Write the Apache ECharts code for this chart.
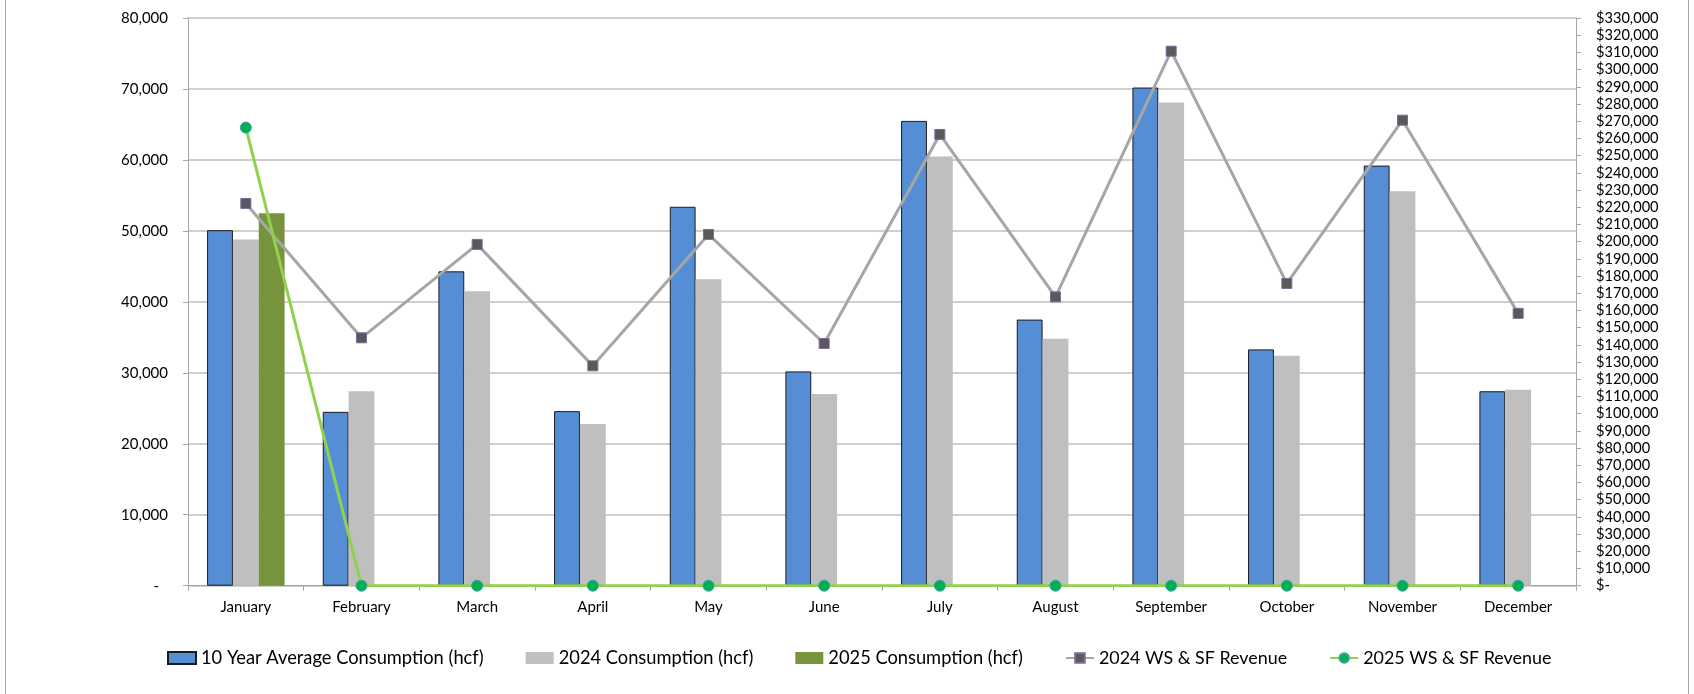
<!DOCTYPE html>
<html>
<head>
<meta charset="utf-8">
<script src="https://cdn.jsdelivr.net/npm/echarts@6/dist/echarts.min.js"></script>
<style>
html,body{margin:0;padding:0;background:#fff;}
#chart{width:1694px;height:694px;}
</style>
</head>
<body>
<div id="chart"></div>
<script>
var months = ['January','February','March','April','May','June','July','August','September','October','November','December'];
var avg10 = [50100, 24500, 44300, 24600, 53400, 30200, 65500, 37500, 70200, 33300, 59200, 27400];
var cons2024 = [48800, 27400, 41500, 22800, 43200, 27000, 60500, 34800, 68100, 32400, 55600, 27600];
var cons2025 = [52500, null, null, null, null, null, null, null, null, null, null, null];
var rev2024 = [222200, 144100, 198400, 127800, 204200, 140800, 262300, 167900, 310700, 175700, 270600, 158300];
var rev2025 = [266300, 0, 0, 0, 0, 0, 0, 0, 0, 0, 0, 0];
var seriesNames = ['10 Year Average Consumption (hcf)','2024 Consumption (hcf)','2025 Consumption (hcf)','2024 WS & SF Revenue','2025 WS & SF Revenue'];

var FONT = 'Lato';
function fmtNum(v){ return v.toString().replace(/\B(?=(\d{3})+(?!\d))/g, ','); }

var chart = echarts.init(document.getElementById('chart'), null, {renderer:'canvas'});
chart.setOption({
  animation:false,
  backgroundColor:'#ffffff',
  textStyle:{fontFamily:FONT},
  grid:{left:188, right:118, top:18, bottom:108.3, containLabel:false},
  legend:{
    left:162, top:644,
    itemGap:42, itemWidth:28, itemHeight:12,
    textStyle:{fontFamily:FONT, fontSize:18.3, color:'#000'},
    data:[
      {name:seriesNames[0], icon:'rect'},
      {name:seriesNames[1], icon:'rect'},
      {name:seriesNames[2], icon:'rect'},
      {name:seriesNames[3], textStyle:{fontSize:17.9}},
      {name:seriesNames[4], textStyle:{fontSize:17.9}}
    ]
  },
  xAxis:{
    type:'category', data:months,
    axisLine:{show:true, lineStyle:{color:'#A6A6A6', width:1}},
    axisTick:{show:true, length:5, alignWithLabel:false, lineStyle:{color:'#A6A6A6'}},
    axisLabel:{fontFamily:FONT, fontSize:15, color:'#000', margin:14}
  },
  yAxis:[{
    type:'value', min:0, max:80000, interval:10000,
    axisLine:{show:true, lineStyle:{color:'#A6A6A6'}},
    axisTick:{show:true, length:5, lineStyle:{color:'#A6A6A6'}},
    splitLine:{show:true, lineStyle:{color:'#BFBFBF', width:1.5}},
    axisLabel:{fontFamily:FONT, fontSize:15, color:'#000', margin:20,
      formatter:function(v){ return v===0 ? '{z|-}' : fmtNum(v); },
      rich:{z:{fontFamily:FONT, fontSize:15, color:'#000', padding:[0,9,0,0]}}
    }
  },{
    type:'value', position:'right', min:0, max:330000, interval:10000,
    axisLine:{show:true, lineStyle:{color:'#A6A6A6'}},
    axisTick:{show:true, length:5, lineStyle:{color:'#A6A6A6'}},
    splitLine:{show:false},
    axisLabel:{fontFamily:FONT, fontSize:14.6, color:'#000', margin:20,
      formatter:function(v){ return v===0 ? '$-' : '$' + fmtNum(v); }
    }
  }],
  series:[
    {name:seriesNames[0], type:'bar', data:avg10, barGap:'0%', barCategoryGap:'33%',
      itemStyle:{color:'#558ED5', borderColor:'#1b1b1b', borderWidth:1}, z:2},
    {name:seriesNames[1], type:'bar', data:cons2024, barGap:'0%', barCategoryGap:'33%',
      itemStyle:{color:'#BFBFBF'}, z:2},
    {name:seriesNames[2], type:'bar', data:cons2025, barGap:'0%', barCategoryGap:'33%',
      itemStyle:{color:'#77933C'}, z:2},
    {name:seriesNames[3], type:'line', yAxisIndex:1, data:rev2024,
      lineStyle:{color:'#A6A6A6', width:3}, symbol:'rect', symbolSize:10, showSymbol:true,
      itemStyle:{color:'#595959', borderColor:'#7E6A9E', borderWidth:1}, z:4},
    {name:seriesNames[4], type:'line', yAxisIndex:1, data:rev2025,
      lineStyle:{color:'#92D050', width:3}, symbol:'circle', symbolSize:11, showSymbol:true,
      itemStyle:{color:'#00B050', borderColor:'#3AA0A8', borderWidth:1}, z:5}
  ],
  graphic:[
    {type:'line', shape:{x1:5.5, y1:0, x2:5.5, y2:694}, style:{stroke:'#A6A6A6', lineWidth:1}},
    {type:'line', shape:{x1:1688.5, y1:0, x2:1688.5, y2:694}, style:{stroke:'#A6A6A6', lineWidth:1}}
  ]
});
</script>
</body>
</html>
